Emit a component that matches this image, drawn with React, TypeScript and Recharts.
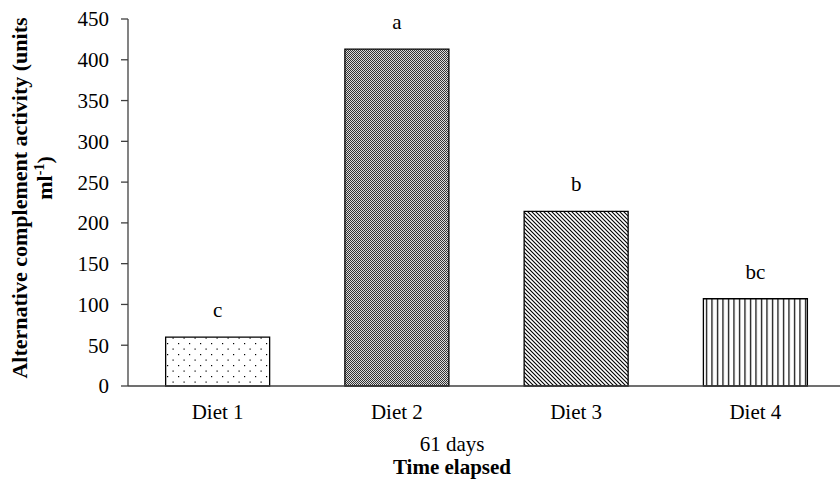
import { BarChart, Bar, XAxis, YAxis, Cell, LabelList } from "recharts";

const diets = ["Diet 1", "Diet 2", "Diet 3", "Diet 4"];
const activity = [60, 413, 214, 107];
const letters = ["c", "a", "b", "bc"];
const yTicks = [0, 50, 100, 150, 200, 250, 300, 350, 400, 450];
const fills = ["url(#dots)", "url(#checks)", "url(#diag)", "url(#vert)"];

const data = diets.map((diet, i) => ({ diet, value: activity[i], sig: letters[i] }));

const font = "'Liberation Serif', 'Times New Roman', serif";
const axisColor = "#404040";

// two-line bold y title, rotated
function YTitle() {
  return (
    <g fontFamily={font} fontWeight="bold" fill="#000">
      <text x={27} y={198} transform="rotate(-90 27 198)" textAnchor="middle" fontSize={22}>
        Alternative complement activity (units
      </text>
      <text x={52} y={178} transform="rotate(-90 52 178)" textAnchor="middle" fontSize={22}>
        ml
        <tspan fontSize={14} dy={-8}>-1</tspan>
        <tspan dy={8}>)</tspan>
      </text>
    </g>
  );
}

function XTitle() {
  return (
    <g fontFamily={font} fill="#000" textAnchor="middle">
      <text x={452} y={451} fontSize={21}>61 days</text>
      <text x={452} y={474} fontSize={21} fontWeight="bold">Time elapsed</text>
    </g>
  );
}

export default function App() {
  return (
    <div style={{ position: "absolute", left: 0, top: 0, width: 840, height: 481, overflow: "hidden", background: "#fff" }}>
      <BarChart
        width={845}
        height={481}
        data={data}
        margin={{ top: 19, right: 0, left: 0, bottom: 65 }}
        barCategoryGap="21%"
      >
        <defs>
          <pattern id="dots" width={11} height={11} patternUnits="userSpaceOnUse">
            <rect width={11} height={11} fill="#fff" />
            <rect x={2} y={2} width={1.2} height={1.2} fill="#000" />
            <rect x={7.5} y={7.5} width={1.2} height={1.2} fill="#000" />
          </pattern>
          <pattern id="checks" width={2} height={2} patternUnits="userSpaceOnUse">
            <rect width={2} height={2} fill="#dcdcdc" />
            <rect x={0} y={0} width={1} height={1} fill="#333" />
            <rect x={1} y={1} width={1} height={1} fill="#333" />
          </pattern>
          <pattern id="diag" width={4} height={4} patternUnits="userSpaceOnUse">
            <rect width={4} height={4} fill="#fff" />
            <path d="M0,0 L4,4 M-1,3 L1,5 M3,-1 L5,1" stroke="#000" strokeWidth={1.1} />
          </pattern>
          <pattern id="vert" width={5.5} height={10} patternUnits="userSpaceOnUse">
            <rect width={5.5} height={10} fill="#fff" />
            <line x1={2.5} y1={0} x2={2.5} y2={10} stroke="#000" strokeWidth={1.2} />
          </pattern>
        </defs>
        <XAxis
          dataKey="diet"
          height={30}
          tickLine={false}
          tickSize={6}
          tickMargin={12}
          axisLine={{ stroke: axisColor, strokeWidth: 1.3 }}
          tick={{ fontSize: 21, fill: "#000", fontFamily: font }}
          label={{ content: () => <XTitle /> }}
        />
        <YAxis
          width={128}
          domain={[0, 450]}
          ticks={yTicks}
          interval={0}
          tickSize={7}
          tickMargin={12}
          axisLine={{ stroke: axisColor, strokeWidth: 1.3 }}
          tickLine={{ stroke: axisColor, strokeWidth: 1.3 }}
          tick={{ fontSize: 21, fill: "#000", fontFamily: font }}
          label={{ content: () => <YTitle /> }}
        />
        <Bar dataKey="value" stroke="#000" strokeWidth={1.3} isAnimationActive={false}>
          {data.map((d, i) => (
            <Cell key={d.diet} fill={fills[i]} />
          ))}
          <LabelList
            dataKey="sig"
            position="top"
            offset={20}
            style={{ fontSize: 21, fill: "#000", fontFamily: font }}
          />
        </Bar>
      </BarChart>
    </div>
  );
}
